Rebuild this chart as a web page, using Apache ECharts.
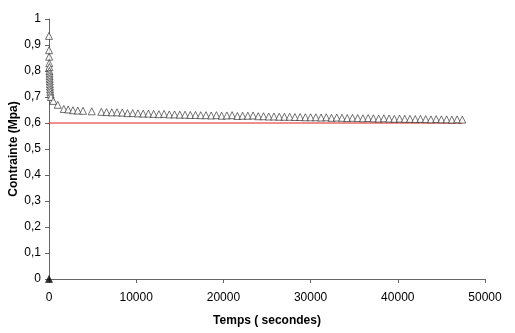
<!DOCTYPE html>
<html>
<head>
<meta charset="utf-8">
<script src="https://cdn.jsdelivr.net/npm/echarts@6/dist/echarts.min.js"></script>
<style>
  html, body { margin: 0; padding: 0; background: #fff; }
  #chart { width: 515px; height: 333px; }
</style>
</head>
<body>
<div id="chart"></div>
<script>
// mesures (temps en s, contrainte en MPa)
var startTimes = [0, 0, 10, 20, 30, 40, 50, 60, 70, 80, 90, 100, 115, 130, 150, 180, 220,
    490, 1000, 1700, 2200, 2750, 3300, 3900, 4900];
var startValues = [0, 0.935, 0.88, 0.855, 0.83, 0.815, 0.80, 0.79, 0.78, 0.77, 0.76, 0.75, 0.74, 0.73, 0.72, 0.71, 0.70,
    0.685, 0.67, 0.654, 0.652, 0.649, 0.648, 0.647, 0.645];

var laterTimes = [6000, 6600, 7200, 7800, 8400, 9000, 9600, 10200, 10800, 11400,
    12000, 12600, 13200, 13800, 14400, 15000, 15600, 16200, 16800, 17400,
    18000, 18600, 19200, 19800, 20400, 21000, 21600, 22200, 22800, 23400,
    24000, 24600, 25200, 25800, 26400, 27000, 27600, 28200, 28800, 29400,
    30000, 30600, 31200, 31800, 32400, 33000, 33600, 34200, 34800, 35400,
    36000, 36600, 37200, 37800, 38400, 39000, 39600, 40200, 40800, 41400,
    42000, 42600, 43200, 43800, 44400, 45000, 45600, 46200, 46800, 47400];
var laterValues = [0.643, 0.642, 0.641, 0.641, 0.640, 0.638, 0.638, 0.637, 0.636, 0.636,
    0.635, 0.634, 0.635, 0.633, 0.633, 0.632, 0.632, 0.631, 0.631, 0.630,
    0.630, 0.629, 0.630, 0.628, 0.629, 0.630, 0.627, 0.628, 0.628, 0.629,
    0.626, 0.626, 0.625, 0.625, 0.624, 0.624, 0.624, 0.623, 0.623, 0.622,
    0.622, 0.622, 0.621, 0.622, 0.620, 0.621, 0.620, 0.619, 0.620, 0.619,
    0.618, 0.619, 0.618, 0.617, 0.618, 0.617, 0.616, 0.617, 0.616, 0.616,
    0.615, 0.616, 0.615, 0.614, 0.615, 0.614, 0.614, 0.613, 0.614, 0.613];

// limite (ligne rouge)
var limitTimes = [0, 47400];
var limitValues = [0.6, 0.6];

var xTicks = ['0', '10000', '20000', '30000', '40000', '50000'];
var yTicks = ['0', '0,1', '0,2', '0,3', '0,4', '0,5', '0,6', '0,7', '0,8', '0,9', '1'];

var points = [];
startTimes.forEach(function (t, i) {
    var p = { value: [t, startValues[i]] };
    if (startValues[i] === 0) {
        p.itemStyle = { color: '#000' };
    }
    points.push(p);
});
laterTimes.forEach(function (t, i) {
    points.push({ value: [t, laterValues[i]] });
});

var chart = echarts.init(document.getElementById('chart'));
var axisFont = { fontFamily: 'Liberation Sans, Arial', fontSize: 12, color: '#000' };
var nameFont = { fontFamily: 'Liberation Sans, Arial', fontSize: 12, fontWeight: 'bold', color: '#000' };

var option = {
    animation: false,
    backgroundColor: '#fff',
    grid: { left: 49, right: 30, top: 19, bottom: 54, containLabel: false, outerBoundsMode: 'none' },
    xAxis: {
        type: 'value',
        min: 0, max: 50000, interval: 10000,
        name: 'Temps ( secondes)',
        nameLocation: 'middle',
        nameGap: 36,
        nameMoveOverlap: false,
        nameTextStyle: nameFont,
        axisLine: { onZero: false, lineStyle: { color: '#666', width: 1 } },
        axisTick: { show: true, length: 4, lineStyle: { color: '#666' } },
        axisLabel: Object.assign({
            margin: 13,
            formatter: function (v) { return xTicks[Math.round(v / 10000)]; }
        }, axisFont),
        splitLine: { show: false }
    },
    yAxis: {
        type: 'value',
        min: 0, max: 1, interval: 0.1,
        name: 'Contrainte (Mpa)',
        nameLocation: 'middle',
        nameGap: 29,
        nameMoveOverlap: false,
        nameTextStyle: nameFont,
        axisLine: { show: true, lineStyle: { color: '#666', width: 1 } },
        axisTick: { show: true, length: 4, lineStyle: { color: '#666' } },
        axisLabel: Object.assign({
            margin: 8,
            formatter: function (v) { return yTicks[Math.round(v * 10)]; }
        }, axisFont),
        splitLine: { show: false }
    },
    series: [
        {
            type: 'line',
            data: limitTimes.map(function (t, i) { return [t, limitValues[i]]; }),
            symbol: 'none',
            lineStyle: { color: '#e0201c', width: 1 },
            z: 1
        },
        {
            type: 'scatter',
            data: points,
            symbol: 'triangle',
            symbolSize: 7,
            itemStyle: { color: '#fff', borderColor: '#222', borderWidth: 0.8 },
            z: 3
        }
    ]
};

chart.setOption(option);
</script>
</body>
</html>
